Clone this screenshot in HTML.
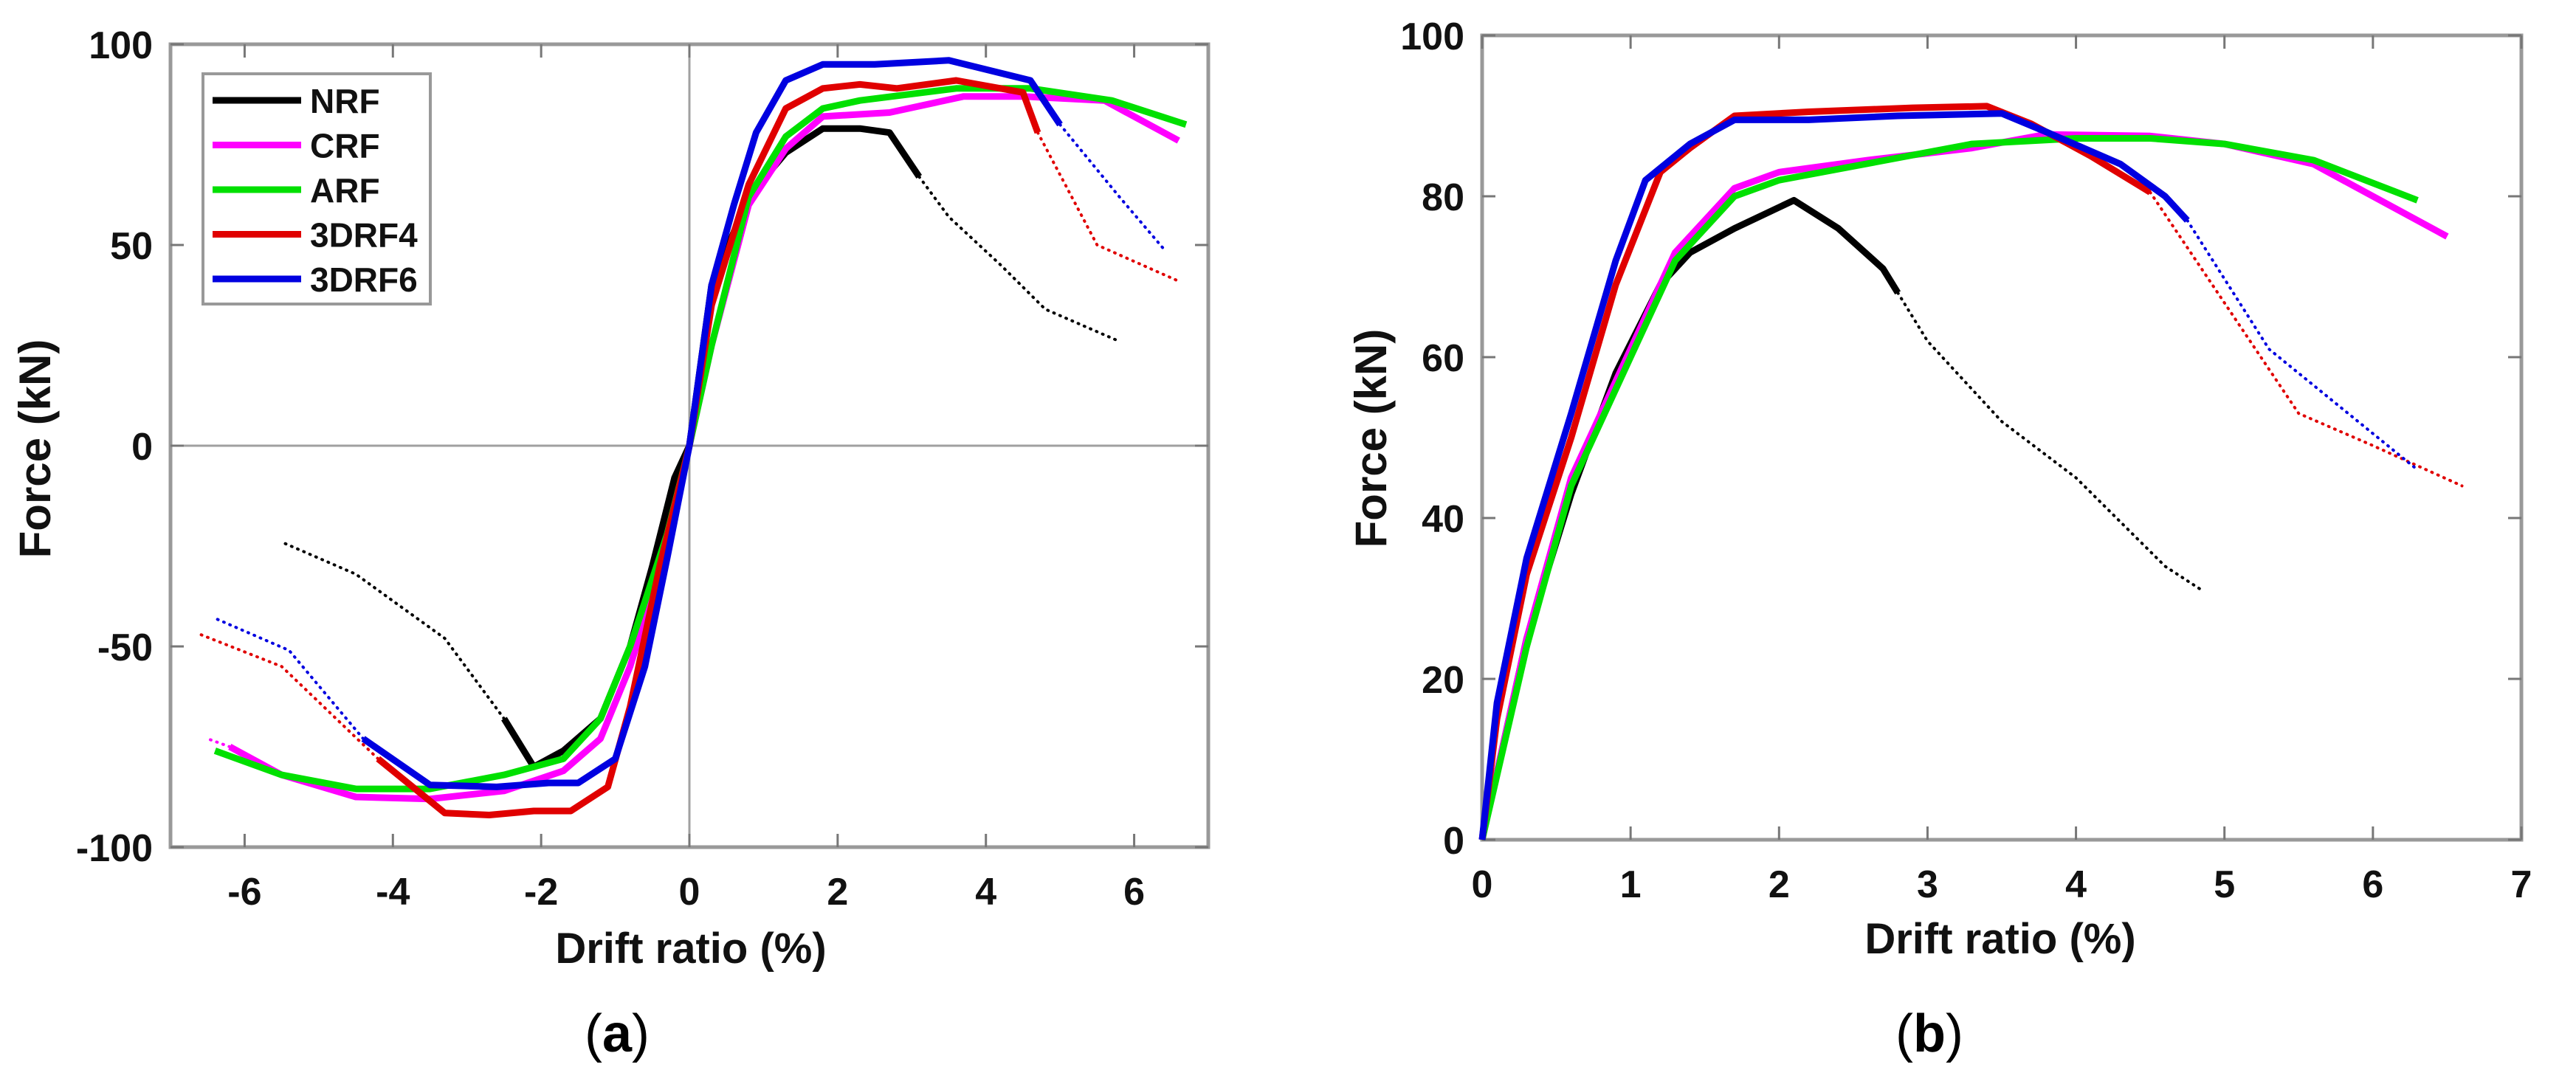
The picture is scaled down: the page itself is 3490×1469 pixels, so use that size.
<!DOCTYPE html>
<html><head><meta charset="utf-8">
<style>
html,body{margin:0;padding:0;background:#fff;}
svg{display:block;}
text{font-family:"Liberation Sans",Arial,sans-serif;}
</style></head>
<body>
<svg id="chart" width="3490" height="1469" viewBox="0 0 3490 1469" xmlns="http://www.w3.org/2000/svg">
<rect width="3490" height="1469" fill="#fff"/>
<g id="pa"></g>
<g id="pb"></g>
</svg>
<script>
// ---------- data ----------
const seriesNames = ["NRF","CRF","ARF","3DRF4","3DRF6"];
const seriesColors = ["#000000","#ff00ff","#00e000","#e00000","#0000e0"];
const ticksAX = [-6,-4,-2,0,2,4,6];
const ticksAY = [-100,-50,0,50,100];
const ticksBX = [0,1,2,3,4,5,6,7];
const ticksBY = [0,20,40,60,80,100];

// Panel a: solid segments and dotted extensions [x, y]
const aNRFpos = [[0,0],[0.3,40],[0.8,62],[1.3,73],[1.8,79],[2.3,79],[2.7,78],[3.1,67]];
const aNRFposDot = [[3.1,67],[3.5,57],[4.2,45],[4.8,34],[5.8,26]];
const aNRFneg = [[0,0],[-0.2,-8],[-0.5,-30],[-0.8,-50],[-1.2,-68],[-1.7,-76],[-2.1,-80],[-2.5,-68]];
const aNRFnegDot = [[-2.5,-68],[-3.3,-48],[-4.5,-32],[-5.5,-24]];
const aCRFpos = [[0,0],[0.3,25],[0.8,60],[1.3,74],[1.8,82],[2.7,83],[3.7,87],[4.5,87],[5.6,86],[6.6,76]];
const aCRFneg = [[0,0],[-0.3,-25],[-0.8,-55],[-1.2,-73],[-1.7,-81],[-2.5,-86],[-3.5,-88],[-4.5,-87.5],[-5.5,-82],[-6.2,-75]];
const aCRFnegDot = [[-6.2,-75],[-6.5,-73]];
const aARFpos = [[0,0],[0.3,25],[0.8,62],[1.3,77],[1.8,84],[2.3,86],[3.6,89],[4.6,89],[5.7,86],[6.7,80]];
const aARFneg = [[0,0],[-0.3,-22],[-0.8,-50],[-1.2,-68],[-1.7,-78],[-2.5,-82],[-3.5,-85.5],[-4.5,-85.5],[-5.5,-82],[-6.4,-76]];
const aR4pos = [[0,0],[0.3,35],[0.8,65],[1.3,84],[1.8,89],[2.3,90],[2.8,89],[3.6,91],[4.5,88],[4.7,78]];
const aR4posDot = [[4.7,78],[5.5,50],[6.6,41]];
const aR4neg = [[0,0],[-0.4,-30],[-0.8,-65],[-1.1,-85],[-1.6,-91],[-2.1,-91],[-2.7,-92],[-3.3,-91.5],[-4.2,-78]];
const aR4negDot = [[-4.2,-78],[-5.5,-55],[-6.6,-47]];
const aR6pos = [[0,0],[0.3,40],[0.6,60],[0.9,78],[1.3,91],[1.8,95],[2.5,95],[3.5,96],[4.6,91],[5.0,80]];
const aR6posDot = [[5.0,80],[5.8,62],[6.4,49]];
const aR6neg = [[0,0],[-0.3,-28],[-0.6,-55],[-1.0,-78],[-1.5,-84],[-1.9,-84],[-2.6,-85],[-3.5,-84.5],[-4.4,-73]];
const aR6negDot = [[-4.4,-73],[-5.4,-51],[-6.4,-43]];

// Panel b
const bNRF = [[0,0],[0.3,25],[0.6,43],[0.9,58],[1.2,69],[1.4,73],[1.7,76],[2.1,79.5],[2.4,76],[2.7,71],[2.8,68]];
const bNRFDot = [[2.8,68],[3.0,62],[3.5,52],[4.0,45],[4.6,34],[4.85,31]];
const bCRF = [[0,0],[0.3,25],[0.6,45],[1,61],[1.3,73],[1.7,81],[2.0,83],[2.6,84.5],[3.3,86],[3.8,87.7],[4.5,87.5],[5,86.5],[5.6,84],[6.5,75]];
const bARF = [[0,0],[0.3,24],[0.6,44],[1,60],[1.3,72],[1.7,80],[2,82],[3.3,86.5],[4,87.2],[4.5,87.2],[5,86.5],[5.6,84.5],[6.3,79.5]];
const bR4 = [[0,0],[0.1,15],[0.3,33],[0.6,50],[0.9,69],[1.2,83],[1.4,86],[1.7,90],[2.2,90.5],[2.9,91],[3.4,91.2],[3.7,89],[4.1,85],[4.5,80.5]];
const bR4Dot = [[4.5,80.5],[5.5,53],[6.0,49],[6.6,44]];
const bR6 = [[0,0],[0.1,17],[0.3,35],[0.6,53],[0.9,72],[1.1,82],[1.4,86.5],[1.7,89.5],[2.2,89.5],[2.8,90],[3.5,90.3],[3.8,88],[4.3,84],[4.6,80],[4.75,77]];
const bR6Dot = [[4.75,77],[5.3,61],[5.7,55],[6.3,46]];

// ---------- axes ----------
const NS = "http://www.w3.org/2000/svg";
const A = {l:231,r:1637,t:60,b:1148,x0:-7,x1:7,y0:-100,y1:100};
const B = {l:2008,r:3416,t:48,b:1138,x0:0,x1:7,y0:0,y1:100};
function sx(ax,v){return ax.l+(v-ax.x0)/(ax.x1-ax.x0)*(ax.r-ax.l);}
function sy(ax,v){return ax.b-(v-ax.y0)/(ax.y1-ax.y0)*(ax.b-ax.t);}
function mk(tag,attrs,parent){const e=document.createElementNS(NS,tag);for(const k in attrs)e.setAttribute(k,attrs[k]);parent.appendChild(e);return e;}

function drawLine(g,ax,pts,color,dotted,name){
  const d=pts.map((p,i)=>(i?"L":"M")+sx(ax,p[0]).toFixed(1)+" "+sy(ax,p[1]).toFixed(1)).join(" ");
  const el=mk("path",{d:d,fill:"none",stroke:color,"stroke-width":dotted?4:9,"stroke-linejoin":"round","stroke-linecap":dotted?"round":"butt","stroke-dasharray":dotted?"1 8":"none"},g);
  
  
}

function drawAxes(g,ax,xt,yt,zeroLines,label,lx,ly,fy,fx,capX){
  if(zeroLines){
    const h=mk("line",{x1:ax.l,x2:ax.r,y1:sy(ax,0),y2:sy(ax,0),stroke:"#a0a0a0","stroke-width":3},g);
    
    
    const v=mk("line",{x1:sx(ax,0),x2:sx(ax,0),y1:ax.t,y2:ax.b,stroke:"#a0a0a0","stroke-width":3},g);
    
    
  }
  const box=mk("rect",{x:ax.l,y:ax.t,width:ax.r-ax.l,height:ax.b-ax.t,fill:"none",stroke:"#999","stroke-width":5},g);
  
  
  xt.forEach(v=>{
    const x=sx(ax,v);
    mk("line",{x1:x,x2:x,y1:ax.b,y2:ax.b-18,stroke:"#777","stroke-width":3},g);
    mk("line",{x1:x,x2:x,y1:ax.t,y2:ax.t+18,stroke:"#777","stroke-width":3},g);
    const t=mk("text",{x:x,y:ax.b+78,"text-anchor":"middle","font-size":52,"font-weight":"bold",fill:"#111"},g);
    t.textContent=v;
    
    
  });
  yt.forEach(v=>{
    const y=sy(ax,v);
    mk("line",{x1:ax.l,x2:ax.l+18,y1:y,y2:y,stroke:"#777","stroke-width":3},g);
    mk("line",{x1:ax.r,x2:ax.r-18,y1:y,y2:y,stroke:"#777","stroke-width":3},g);
    const t=mk("text",{x:ax.l-24,y:y+19,"text-anchor":"end","font-size":52,"font-weight":"bold",fill:"#111"},g);
    t.textContent=v;
    
    
  });
  const xl=mk("text",{x:lx,y:ly,"text-anchor":"middle","font-size":58,"font-weight":"bold",fill:"#111"},g);
  xl.textContent="Drift ratio (%)";
  
  
  const yl=mk("text",{x:0,y:0,"text-anchor":"middle","font-size":60,"font-weight":"bold",fill:"#111",transform:"translate("+fx+","+fy+") rotate(-90)"},g);
  yl.textContent="Force (kN)";
  
  
  const cap=mk("text",{x:capX,y:1425,"text-anchor":"middle","font-size":72,fill:"#000","font-family":"Liberation Serif, serif"},g);
  cap.innerHTML='(<tspan font-weight="bold">'+label+'</tspan>)';
  
  
}

const ga=document.getElementById("pa"), gb=document.getElementById("pb");
drawAxes(ga,A,ticksAX,ticksAY,true,"a",936,1305,608,68,836);
drawAxes(gb,B,ticksBX,ticksBY,false,"b",2710,1292,594,1878,2614);

const C=seriesColors;
// panel a
[[aNRFpos,0,0],[aNRFposDot,0,1],[aNRFneg,0,0],[aNRFnegDot,0,1],
 [aCRFpos,1,0],[aCRFneg,1,0],[aCRFnegDot,1,1],
 [aARFpos,2,0],[aARFneg,2,0],
 [aR4pos,3,0],[aR4posDot,3,1],[aR4neg,3,0],[aR4negDot,3,1],
 [aR6pos,4,0],[aR6posDot,4,1],[aR6neg,4,0],[aR6negDot,4,1]].forEach(s=>drawLine(ga,A,s[0],C[s[1]],s[2],"line-a-"+seriesNames[s[1]].toLowerCase()));
// panel b
[[bNRF,0,0],[bNRFDot,0,1],[bCRF,1,0],[bARF,2,0],[bR4,3,0],[bR4Dot,3,1],[bR6,4,0],[bR6Dot,4,1]].forEach(s=>drawLine(gb,B,s[0],C[s[1]],s[2],"line-b-"+seriesNames[s[1]].toLowerCase()));

// legend
const lg=mk("g",{},ga);


mk("rect",{x:275,y:100,width:308,height:312,fill:"#fff",stroke:"#999","stroke-width":4},lg);
seriesNames.forEach((n,i)=>{
  const y=136+i*60.5;
  const l=mk("line",{x1:288,x2:408,y1:y,y2:y,stroke:C[i],"stroke-width":9},lg);
  
  
  const t=mk("text",{x:420,y:y+17,"font-size":46,"font-weight":"bold",fill:"#111"},lg);
  t.textContent=n;
  
  
});
</script>
</body></html>
